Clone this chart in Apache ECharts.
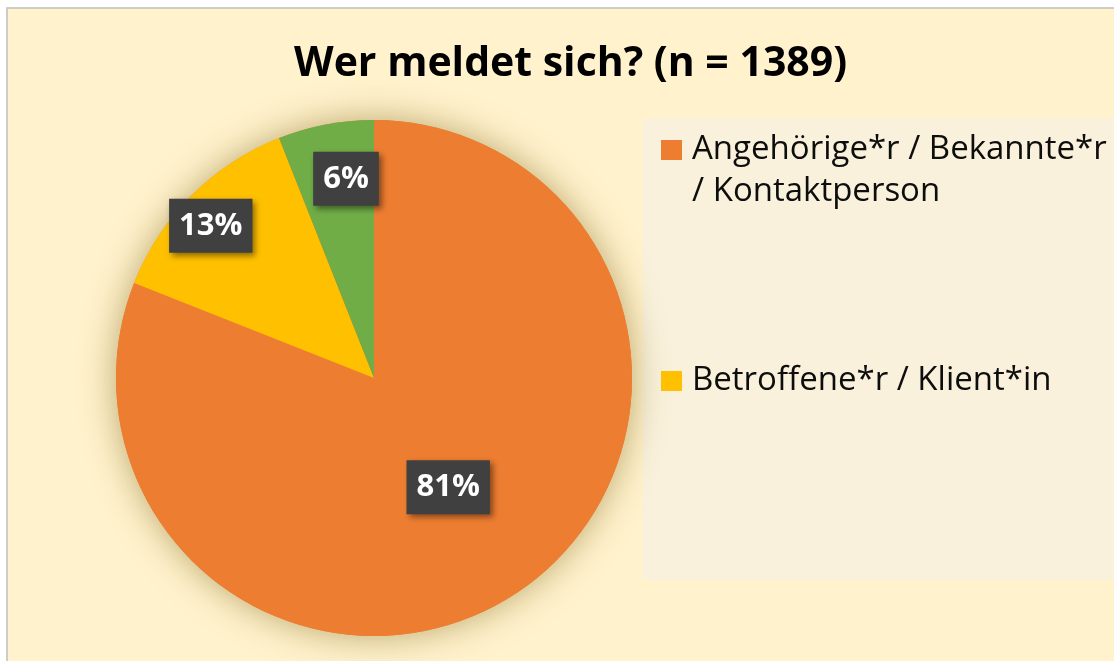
<!DOCTYPE html>
<html>
<head>
<meta charset="utf-8">
<title>Wer meldet sich?</title>
<script src="https://cdn.jsdelivr.net/npm/echarts@6/dist/echarts.min.js"></script>
<style>
    html, body { margin: 0; padding: 0; background: #fff; }
    #chart { width: 1114px; height: 661px; }
</style>
</head>
<body>
<div id="chart"></div>
<script>
// Daten
const categories = ['Angehörige*r / Bekannte*r / Kontaktperson', 'Betroffene*r / Klient*in', 'Sonstige'];
// leere erste Zeile, damit das Quadrat neben der ersten Textzeile steht
const legendLabels = ['\nAngehörige*r / Bekannte*r\n/ Kontaktperson', 'Betroffene*r / Klient*in'];
const shares = [81, 13, 6];
const sliceColors = ['#ED7D31', '#FFC000', '#70AD47'];
const titleText = 'Wer meldet sich? (n = 1389)';

(function () {
    let myChart = echarts.init(document.getElementById('chart'));

    const center = [374, 378];
    const radius = 258;
    // Label-Positionen wie im Original (Anteil vom Radius, Winkel im Uhrzeigersinn ab 12 Uhr)
    const labelSpots = [null, [0.865, 313], [0.78, 352]];

    const total = shares.reduce((a, b) => a + b, 0);

    const legendText = {
        fontFamily: 'Open Sans',
        fontSize: 33,
        lineHeight: 42,
        color: '#0d0d0d',
        padding: [0, 0, 0, 5]
    };

    let option = {
        backgroundColor: '#ffffff',
        color: sliceColors,
        animation: false,
        graphic: [
            {
                // Diagrammfläche mit Rahmen
                type: 'rect',
                z: -10,
                shape: { x: 7, y: 8, width: 1200, height: 700 },
                style: { fill: '#FFF2CC', stroke: '#BFBFBF', lineWidth: 1.5 }
            },
            {
                // Legendenfläche
                type: 'rect',
                z: -9,
                shape: { x: 643, y: 118, width: 500, height: 462 },
                style: { fill: '#F9F1DB' }
            }
        ],
        title: {
            text: titleText,
            left: 289,
            top: 39,
            textStyle: {
                fontFamily: 'Open Sans',
                fontWeight: 'bold',
                fontSize: 41,
                color: '#000'
            }
        },
        legend: [
            {
                orient: 'vertical',
                left: 661,
                top: 150 - 63,
                padding: 0,
                itemWidth: 21,
                itemHeight: 20,
                icon: 'rect',
                selectedMode: false,
                data: [categories[0]],
                formatter: function () { return legendLabels[0]; },
                textStyle: legendText
            },
            {
                orient: 'vertical',
                left: 661,
                top: 381 - 21,
                padding: 0,
                itemWidth: 21,
                itemHeight: 20,
                icon: 'rect',
                selectedMode: false,
                data: [categories[1]],
                formatter: function () { return legendLabels[1]; },
                textStyle: legendText
            }
        ],
        series: [
            {
                // weicher Schatten unter dem Kreis
                name: 'schatten',
                type: 'pie',
                silent: true,
                center: center,
                radius: radius,
                label: { show: false },
                labelLine: { show: false },
                data: [{
                    value: total,
                    name: 'schatten',
                    itemStyle: {
                        color: '#ED7D31',
                        shadowBlur: 34,
                        shadowColor: 'rgba(120, 90, 10, 0.5)'
                    }
                }]
            },
            {
                name: 'Wer meldet sich?',
                type: 'pie',
                center: center,
                radius: radius,
                startAngle: 90,
                clockwise: true,
                label: {
                    show: true,
                    position: 'inside',
                    formatter: '{c}%',
                    fontFamily: 'Open Sans',
                    fontWeight: 'bold',
                    fontSize: 31,
                    lineHeight: 34,
                    color: '#fff',
                    backgroundColor: '#404040',
                    padding: [10, 10, 10, 10],
                    shadowColor: 'rgba(0,0,0,0.45)',
                    shadowBlur: 6,
                    shadowOffsetX: 3,
                    shadowOffsetY: 3
                },
                labelLine: { show: false },
                labelLayout: function (params) {
                    const spot = labelSpots[params.dataIndex];
                    if (!spot) return {};
                    const a = spot[1] * Math.PI / 180;
                    return {
                        x: center[0] + spot[0] * radius * Math.sin(a),
                        y: center[1] - spot[0] * radius * Math.cos(a)
                    };
                },
                data: categories.map((c, i) => ({ name: c, value: shares[i] }))
            }
        ]
    };

    myChart.setOption(option);

    window.addEventListener('resize', function () {
        myChart.resize();
    });
})();
</script>
</body>
</html>
